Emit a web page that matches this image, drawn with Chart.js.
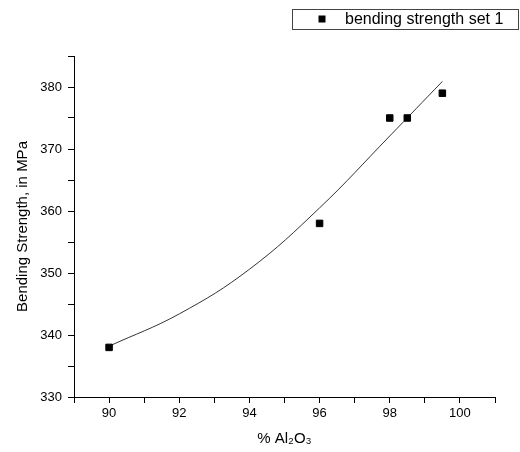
<!DOCTYPE html>
<html>
<head>
<meta charset="utf-8">
<script src="https://cdn.jsdelivr.net/npm/chart.js@4.4.0/dist/chart.umd.min.js"></script>
<style>
  html, body { margin: 0; padding: 0; background: #fff; }
  #wrap { width: 520px; height: 452px; }
</style>
</head>
<body>
<div id="wrap"><canvas id="myChart" width="520" height="452"></canvas></div>
<script>
// measured points
const alumina = [90, 96, 98, 98.5, 99.5];
const strength = [338, 358, 375, 375, 379];
// fit curve
const fitX = [90, 92, 94, 96, 98, 99.5];
const fitY = [338.2, 343.4, 350.6, 360.5, 372.1, 380.9];

const FONT = '"Liberation Sans", Arial, sans-serif';

// boxed legend in the top right corner
const boxLegend = {
  id: 'boxLegend',
  afterDraw(chart) {
    const ctx = chart.ctx;
    const ds = chart.data.datasets[0];
    ctx.save();
    ctx.strokeStyle = '#444';
    ctx.lineWidth = 1;
    ctx.strokeRect(292.5, 9.5, 226, 20);
    ctx.fillStyle = '#000';
    ctx.fillRect(318.5, 15.5, 7, 7);
    ctx.font = '16px ' + FONT;
    ctx.textBaseline = 'middle';
    ctx.fillText(ds.label, 345, 19.5);
    ctx.restore();
  }
};

new Chart(document.getElementById('myChart'), {
  type: 'scatter',
  data: {
    datasets: [{
      label: 'bending strength set 1',
      data: alumina.map((x, i) => ({ x: x, y: strength[i] })),
      pointStyle: 'rect',
      pointRadius: 4.6,
      pointBorderWidth: 1,
      backgroundColor: '#000',
      borderColor: '#000'
    }, {
      label: 'fit',
      data: fitX.map((x, i) => ({ x: x, y: fitY[i] })),
      showLine: true,
      tension: 0.4,
      pointRadius: 0,
      borderWidth: 1,
      borderColor: '#333'
    }]
  },
  options: {
    responsive: false,
    animation: false,
    layout: { padding: { top: 56, right: 25, left: 0, bottom: 0 } },
    plugins: {
      legend: { display: false },
      tooltip: { enabled: false }
    },
    scales: {
      x: {
        min: 89,
        max: 101,
        afterFit: (scale) => { scale.height = 55; },
        ticks: {
          stepSize: 1,
          padding: 3,
          color: '#000',
          font: { size: 13, family: FONT },
          maxRotation: 0,
          autoSkip: false,
          callback: (v) => (v % 2 === 0 ? v : '')
        },
        grid: { drawOnChartArea: false, tickLength: 6, color: '#000' },
        border: { color: '#000', width: 1 },
        title: {
          display: true,
          text: '% Al₂O₃',
          color: '#000',
          font: { size: 15, family: FONT },
          padding: { top: 0, bottom: 4 }
        }
      },
      y: {
        min: 330,
        max: 385,
        afterFit: (scale) => { scale.width = 74; },
        ticks: {
          stepSize: 5,
          padding: 6,
          color: '#000',
          font: { size: 13, family: FONT },
          autoSkip: false,
          callback: (v) => (v % 10 === 0 ? v : '')
        },
        grid: { drawOnChartArea: false, tickLength: 6, color: '#000' },
        border: { color: '#000', width: 1 },
        title: {
          display: true,
          text: 'Bending Strength, in MPa',
          color: '#000',
          font: { size: 15, family: FONT },
          padding: { top: 14, bottom: 0 }
        }
      }
    }
  },
  plugins: [boxLegend]
});
</script>
</body>
</html>
